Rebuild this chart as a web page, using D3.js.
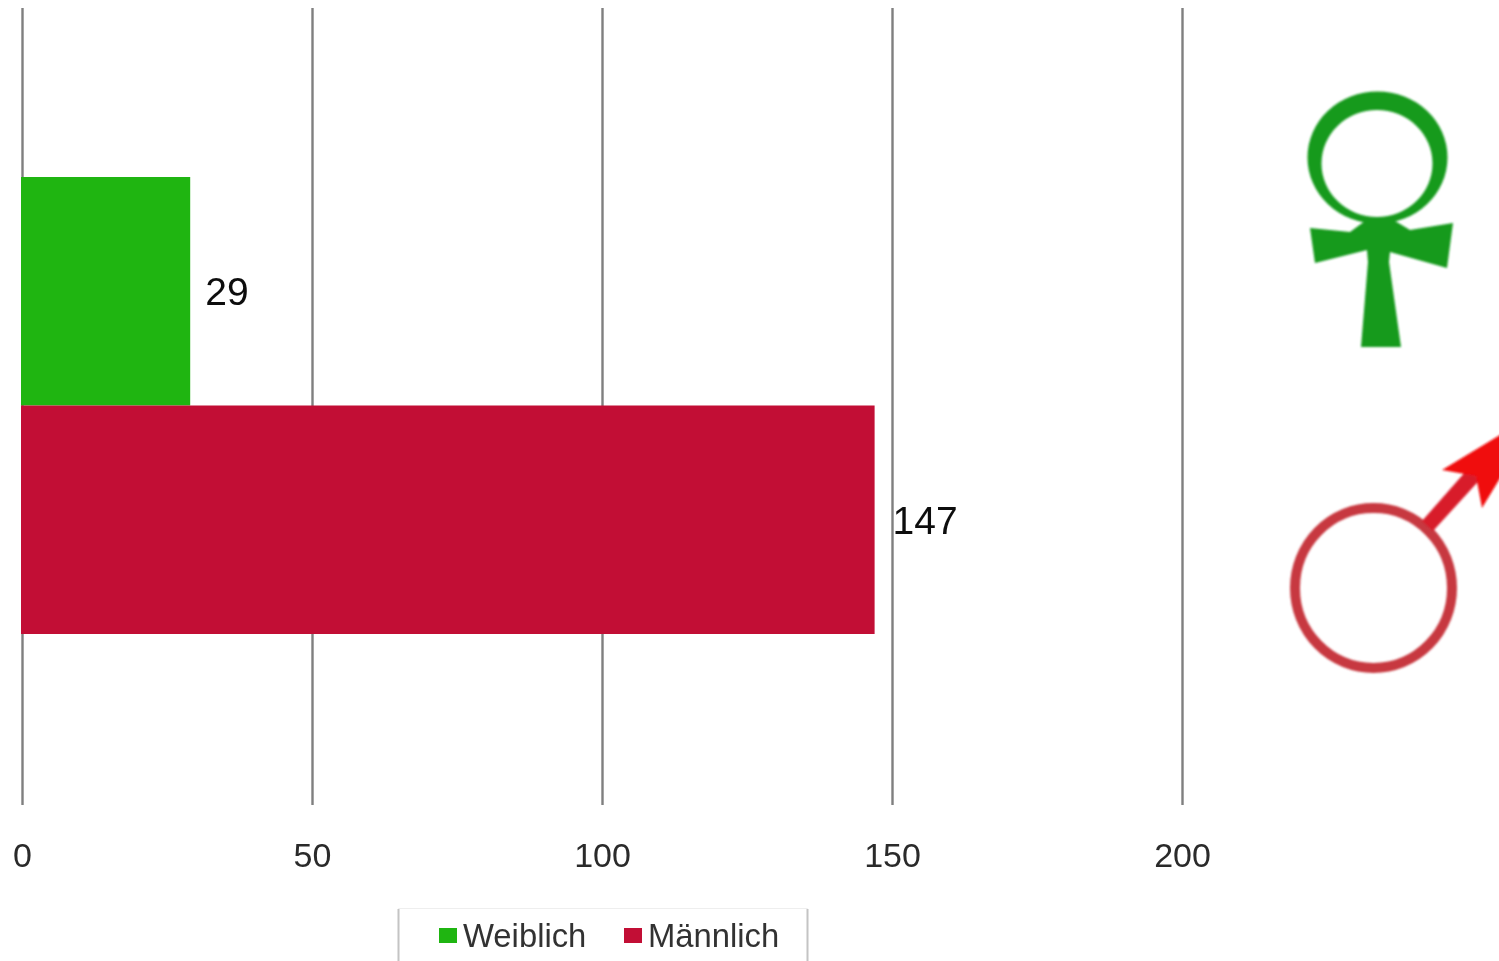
<!DOCTYPE html>
<html><head><meta charset="utf-8">
<script src="https://cdn.jsdelivr.net/npm/d3@7/dist/d3.min.js"></script>
<style>html,body{margin:0;padding:0;background:#fff;overflow:hidden}svg{display:block;font-family:"Liberation Sans",Arial,sans-serif}</style>
</head><body><svg id="c" width="1499" height="961"></svg>
<script>
const seriesNames = ["Weiblich", "Männlich"];
const seriesValues = [29, 147];
const seriesColors = ["#1fb511", "#c20e35"];
const tickValues = [0, 50, 100, 150, 200];

const svg = d3.select("#c");
const defs = svg.append("defs");
defs.append("filter").attr("id","soft").append("feGaussianBlur").attr("stdDeviation",1);
defs.append("filter").attr("id","softText").append("feGaussianBlur").attr("stdDeviation",0.5);

const x = d3.scaleLinear().domain([0,200]).range([22,1182]);
const y = d3.scaleBand().domain(seriesNames).range([177,634]).padding(0);

// axis + gridlines
const axis = svg.append("g").attr("transform","translate(0,805)")
  .call(d3.axisBottom(x).tickValues(tickValues).tickSize(797).tickSizeOuter(0).tickPadding(0).tickFormat(d3.format("d")));
axis.select(".domain").remove();
axis.selectAll(".tick line").attr("y2",-797).attr("stroke","#7f7f7f").attr("stroke-width",2.4);
axis.selectAll(".tick text").attr("y",0).attr("dy",null).attr("transform","translate(0,62)")
  .attr("font-size",34).attr("font-family","Liberation Sans").attr("fill","#2a2a2a").attr("filter","url(#softText)");

// bars
svg.selectAll("rect.bar").data(seriesNames).join("rect").attr("class","bar")
  .attr("x",x(0)-1).attr("y",d=>y(d)).attr("height",y.bandwidth())
  .attr("width",(d,i)=>x(seriesValues[i])-x(0)+1).attr("fill",(d,i)=>seriesColors[i]);

// value labels
svg.selectAll("text.val").data(seriesNames).join("text").attr("class","val")
  .attr("x",(d,i)=>x(seriesValues[i])+ (i===0?15:18)).attr("y",d=>y(d)+y.bandwidth()/2+14)
  .attr("font-size",39).attr("fill","#111").attr("filter","url(#softText)")
  .text((d,i)=>seriesValues[i]);

// legend
const lg = svg.append("g");
lg.append("path").attr("d","M398.5 961V908.5H807.5V961").attr("fill","none").attr("stroke","#eeeeee").attr("stroke-width",1);
lg.append("path").attr("d","M398.5 961V909M807.5 961V909").attr("fill","none").attr("stroke","#c4c4c4").attr("stroke-width",2);
const lx=[439,624], tx=[463,648];
seriesNames.forEach((n,i)=>{
  lg.append("rect").attr("x",lx[i]).attr("y",928).attr("width",18).attr("height",15).attr("fill",seriesColors[i]);
  lg.append("text").attr("x",tx[i]).attr("y",947).attr("font-size",32.8).attr("fill","#333").attr("filter","url(#softText)").text(n);
});

// Ankh symbol
const ankh = svg.append("g").attr("filter","url(#soft)");
ankh.append("path").attr("fill","#139a1c").attr("fill-rule","evenodd")
  .attr("d","M1307.5 157.5a70 66 0 1 0 140 0a70 66 0 1 0 -140 0Z M1321.5 163.5a55.5 53.5 0 1 0 111 0a55.5 53.5 0 1 0 -111 0Z");
ankh.append("path").attr("fill","#129a1c")
  .attr("d","M1310 228 L1350 232 L1365 221 L1395 221 L1410 230 L1453 223 L1447 268 L1390 252 L1389 262 L1401 347 L1361 347 L1368 262 L1367 250 L1315 263 Z");

// Mars symbol
const mars = svg.append("g").attr("filter","url(#soft)");
mars.append("ellipse").attr("cx",1373.5).attr("cy",588).attr("rx",78.5).attr("ry",80)
  .attr("fill","none").attr("stroke","#c7383f").attr("stroke-width",10);
mars.append("path").attr("fill","#d81c2c").attr("d","M1422 521 L1474 462 L1486 473 L1433 531 Z");
mars.append("path").attr("fill","#f01010").attr("d","M1442 470 L1505 432 L1505 470 L1482 508 L1476 476 Z");
</script></body></html>
